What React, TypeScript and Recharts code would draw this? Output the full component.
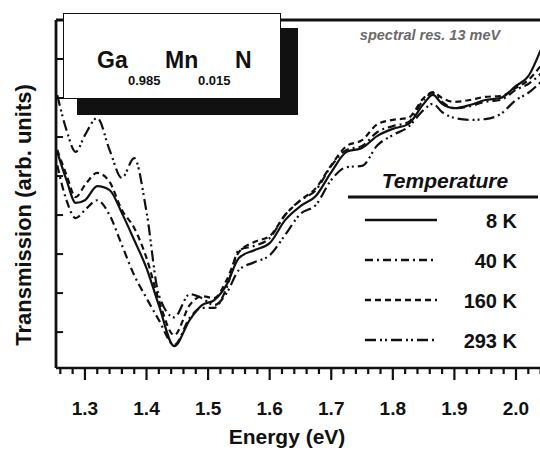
import { LineChart, Line, XAxis, YAxis, ReferenceLine } from "recharts";

const ENERGY = [
  1.255, 1.27, 1.285, 1.3, 1.32, 1.34, 1.36, 1.38, 1.4, 1.42, 1.445, 1.47, 1.49,
  1.51, 1.53, 1.55, 1.575, 1.6, 1.625, 1.65, 1.675, 1.7, 1.725, 1.75, 1.775,
  1.8, 1.825, 1.85, 1.865, 1.88, 1.9, 1.925, 1.95, 1.975, 2.0, 2.02, 2.04,
];

const T8 = [
  4.62, 3.9, 3.31, 3.38, 3.74, 3.64, 3.05, 2.36, 1.64, 0.69, -0.36, 0.31, 0.69,
  0.82, 1.21, 1.9, 2.1, 2.28, 2.87, 3.23, 3.49, 4.1, 4.62, 4.72, 5.03, 5.21,
  5.33, 5.85, 6.08, 5.85, 5.74, 5.82, 5.95, 6.0, 6.31, 6.56, 7.23,
];
const T40 = [
  4.28, 3.38, 2.92, 3.13, 3.38, 3.0, 2.23, 1.46, 0.87, 0.31, -0.33, 0.36, 0.62,
  0.62, 1.13, 2.1, 2.21, 2.41, 3.0, 3.38, 3.64, 4.26, 4.67, 4.77, 5.13, 5.28,
  5.38, 5.95, 6.13, 5.9, 5.74, 5.79, 5.9, 5.95, 6.21, 6.36, 6.62,
];
const T160 = [
  4.67, 4.03, 3.46, 3.77, 4.08, 3.85, 3.13, 2.67, 1.9, 0.82, -0.08, 0.69, 0.92,
  0.87, 1.33, 2.05, 2.31, 2.46, 3.0, 3.38, 3.69, 4.28, 4.77, 4.92, 5.33, 5.44,
  5.49, 6.0, 6.15, 6.0, 5.9, 5.95, 6.03, 6.05, 6.26, 6.46, 6.82,
];
const T293 = [
  6.08, 5.18, 4.62, 5.05, 5.49, 4.67, 3.95, 4.46, 3.08, 0.95, 0.38, 0.97, 0.87,
  0.69, 1.0, 1.59, 1.79, 1.97, 2.49, 3.03, 3.26, 3.9, 4.23, 4.26, 4.79, 5.05,
  5.26, 5.69, 5.85, 5.64, 5.49, 5.44, 5.46, 5.59, 5.95, 6.13, 6.41,
];

const MAJOR_TICKS = [1.3, 1.4, 1.5, 1.6, 1.7, 1.8, 1.9, 2.0];
const Y_TICKS = [0, 1, 2, 3, 4, 5, 6, 7];

// minor ticks every 0.02 eV across the axis
const X_TICKS = Array.from({ length: 40 }, (_, i) => Math.round((1.26 + i * 0.02) * 100) / 100);

const X_MIN = 1.253;
const X_MAX = 2.039;
const Y_MIN = -0.92;
const Y_MAX = 8;

const SERIES = [
  { key: "t8", label: "8 K", values: T8, dash: undefined },
  { key: "t40", label: "40 K", values: T40, dash: "8 4 2 4" },
  { key: "t160", label: "160 K", values: T160, dash: "6 4" },
  { key: "t293", label: "293 K", values: T293, dash: "11 4 2 3 2 4" },
];

const data = ENERGY.map((e, i) => {
  const row: Record<string, number> = { e };
  SERIES.forEach((s) => (row[s.key] = s.values[i]));
  return row;
});

const FONT = "'Liberation Sans', Arial, Helvetica, sans-serif";
const INK = "#111";

function isMajor(v: number) {
  return MAJOR_TICKS.some((m) => Math.abs(m - v) < 1e-6);
}

function XTick({ x, y, payload }: any) {
  const v = payload.value;
  const major = isMajor(v);
  return (
    <g>
      <line x1={x} x2={x} y1={y} y2={y + (major ? 12 : 6)} stroke={INK} strokeWidth={2.2} />
      {major && (
        <text x={x} y={y + 47} textAnchor="middle" fontFamily={FONT} fontWeight="bold" fontSize={19} fill={INK}>
          {v.toFixed(1)}
        </text>
      )}
    </g>
  );
}

export default function App() {
  return (
    <div style={{ position: "absolute", left: 0, top: 0, width: 540, height: 450, background: "#fff", overflow: "hidden" }}>
      <LineChart width={540} height={450} data={data} margin={{ top: 20, right: 0, left: 56, bottom: 42 }}>
        <XAxis
          dataKey="e"
          type="number"
          domain={[X_MIN, X_MAX]}
          allowDataOverflow
          ticks={X_TICKS}
          interval={0}
          tick={<XTick />}
          tickLine={false}
          tickSize={0}
          tickMargin={0}
          height={40}
          axisLine={{ stroke: INK, strokeWidth: 2.6 }}
        />
        <YAxis
          type="number"
          domain={[Y_MIN, Y_MAX]}
          allowDataOverflow
          ticks={Y_TICKS}
          width={0}
          tick={false}
          tickLine={false}
          axisLine={false}
        />
        {/* frame: left axis and top border */}
        <ReferenceLine x={X_MIN} stroke={INK} strokeWidth={2.8} />
        <ReferenceLine y={Y_MAX} stroke={INK} strokeWidth={3} />
        {/* short inward ticks on the left axis */}
        {Y_TICKS.map((v) => (
          <ReferenceLine
            key={v}
            segment={[
              { x: X_MIN, y: v },
              { x: X_MIN + 0.0115, y: v },
            ]}
            stroke={INK}
            strokeWidth={2}
          />
        ))}
        {SERIES.map((s) => (
          <Line
            key={s.key}
            dataKey={s.key}
            type="monotone"
            stroke={INK}
            strokeWidth={2.2}
            strokeDasharray={s.dash}
            dot={false}
            isAnimationActive={false}
          />
        ))}
      </LineChart>

      {/* inset with composition */}
      <div style={{ position: "absolute", left: 77, top: 28, width: 221, height: 87, background: "#111" }} />
      <div
        style={{
          position: "absolute",
          left: 63,
          top: 13,
          width: 216,
          height: 84,
          background: "#fff",
          border: "1.5px solid #111",
        }}
      />

      <svg width={540} height={450} style={{ position: "absolute", left: 0, top: 0 }}>
        <g fontFamily={FONT} fontWeight="bold" fill={INK}>
          <text x={97} y={68} fontSize={23}>Ga</text>
          <text x={128} y={85} fontSize={13}>0.985</text>
          <text x={165} y={68} fontSize={23}>Mn</text>
          <text x={198} y={85} fontSize={13}>0.015</text>
          <text x={235} y={68} fontSize={23}>N</text>

          <text x={430} y={40} fontSize={14.5} fontStyle="italic" fill="#6a6a6a" textAnchor="middle">
            spectral res. 13 meV
          </text>

          <text x={445} y={188} fontSize={21} fontStyle="italic" textAnchor="middle">
            Temperature
          </text>
          <line x1={348} x2={538} y1={197} y2={197} stroke={INK} strokeWidth={3} />
          {SERIES.map((s, i) => (
            <g key={s.key}>
              <line
                x1={365}
                x2={437}
                y1={220 + i * 40}
                y2={220 + i * 40}
                stroke={INK}
                strokeWidth={2.4}
                strokeDasharray={s.dash}
              />
              <text x={517} y={228 + i * 40} fontSize={20} textAnchor="end">
                {s.label}
              </text>
            </g>
          ))}

          <text x={287} y={444} fontSize={21} textAnchor="middle">
            Energy (eV)
          </text>
          <text x={31} y={215} fontSize={22} textAnchor="middle" transform="rotate(-90 31 215)">
            Transmission (arb. units)
          </text>
        </g>
      </svg>
    </div>
  );
}
